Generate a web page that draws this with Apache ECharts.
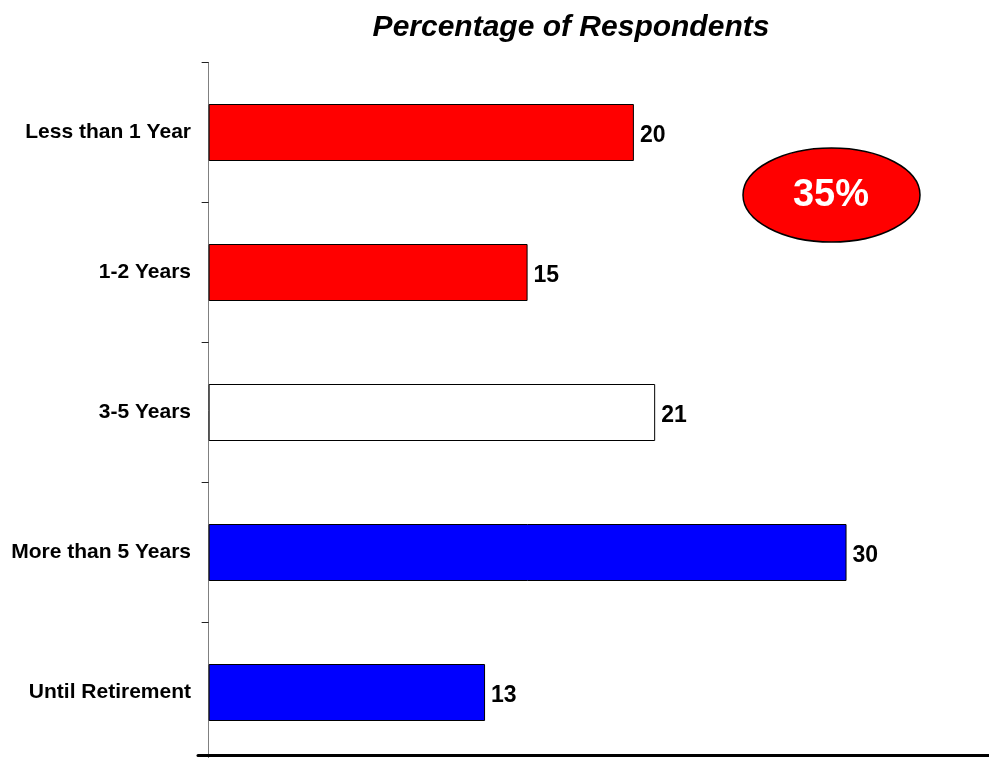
<!DOCTYPE html>
<html>
<head>
<meta charset="utf-8">
<script src="https://cdn.jsdelivr.net/npm/echarts@6/dist/echarts.min.js"></script>
<style>
html,body{margin:0;padding:0;background:#fff;}
#main{width:989px;height:758px;}
</style>
</head>
<body>
<div id="main"></div>
<script>
const categories = ['Less than 1 Year', '1-2 Years', '3-5 Years', 'More than 5 Years', 'Until Retirement'];
const values = [20, 15, 21, 30, 13];
const calloutText = '35%';
const titleText = 'Percentage of Respondents';

const barColors = ['#FF0000', '#FF0000', '#FFFFFF', '#0000FF', '#0000FF'];
const narrow = '"Liberation Sans Narrow", "Arial Narrow", "Liberation Sans", Arial, sans-serif';

const chart = echarts.init(document.getElementById('main'), null, {renderer: 'canvas'});
chart.setOption({
  animation: false,
  backgroundColor: '#ffffff',
  title: {
    text: titleText,
    left: 566, top: 8, textAlign: 'center',
    textStyle: {fontFamily: '"Liberation Sans", Arial, sans-serif', fontSize: 30, fontWeight: 'bold', fontStyle: 'italic', color: '#000'}
  },
  grid: {left: 198, right: 0, top: 62.5, height: 700, containLabel: false, outerBoundsMode: 'none'},
  xAxis: {
    type: 'value', min: -0.5, max: 36.7,
    offset: -7.5,
    axisLine: {show: true, onZero: false, lineStyle: {color: '#000', width: 3}},
    axisTick: {show: false}, axisLabel: {show: false}, splitLine: {show: false}
  },
  yAxis: {
    type: 'category', inverse: true, data: categories,
    axisLine: {show: true, onZero: true, lineStyle: {color: '#808080', width: 1}},
    axisTick: {show: true, length: 7, inside: false, lineStyle: {color: '#222', width: 1}},
    axisLabel: {margin: 7, color: '#000', fontFamily: narrow, fontSize: 21, fontWeight: 'bold', padding: [3, 0, 0, 0]},
    splitLine: {show: false}
  },
  series: [{
    type: 'bar', barWidth: 57,
    data: values.map((v, i) => ({value: v, itemStyle: {color: barColors[i]}})),
    itemStyle: {borderColor: '#000', borderWidth: 1},
    label: {show: true, position: 'right', distance: 6, color: '#000', fontFamily: narrow, fontSize: 23, fontWeight: 'bold', offset: [0, 3]}
  }],
  graphic: [{
    type: 'group',
    children: [{
      type: 'ellipse',
      shape: {cx: 831.5, cy: 195, rx: 88.5, ry: 47},
      style: {fill: '#FF0000', stroke: '#000', lineWidth: 1.5}
    }, {
      type: 'text',
      x: 831, y: 196,
      style: {text: calloutText, fill: '#fff', font: 'bold 38px "Liberation Sans", Arial, sans-serif', textAlign: 'center', textVerticalAlign: 'middle'}
    }]
  }]
});
</script>
</body>
</html>
